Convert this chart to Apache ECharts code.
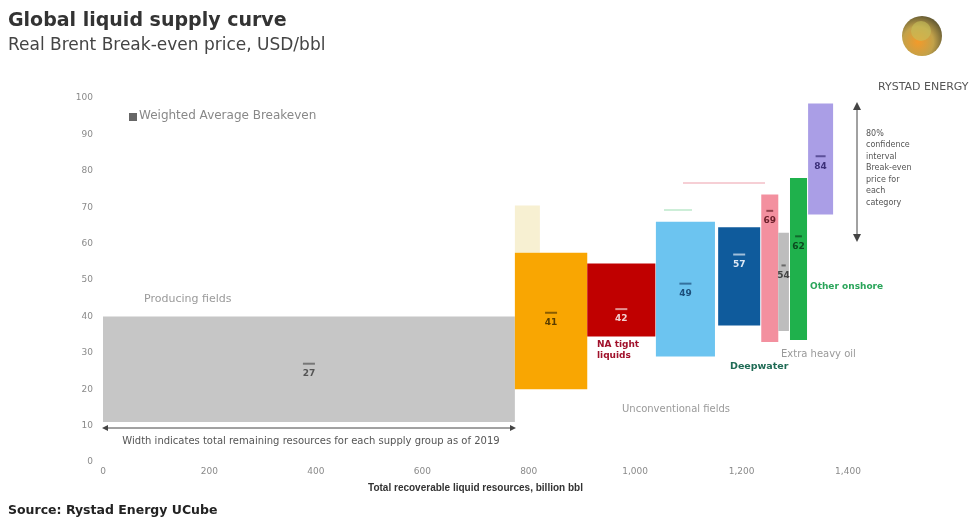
<!DOCTYPE html>
<html><head><meta charset="utf-8">
<script src="https://cdn.jsdelivr.net/npm/echarts@6/dist/echarts.min.js"></script>
<style>html,body{margin:0;padding:0;background:#fff}#c{width:970px;height:524px}</style>
</head><body><div id="c"></div>
<script>
// ---- data ----
var groups   = ['Producing fields','Middle East onshore top','Onshore Middle East','NA tight liquids','Offshore shelf','Deepwater','Russia onshore','Other','Other onshore','Oil sands'];
var xStart   = [0,   774, 774, 910, 1039, 1156, 1237, 1269, 1291, 1325];
var xEnd     = [774, 821, 910, 1038,1150, 1235, 1269, 1289, 1323, 1372];
var lowBE    = [11,  57.5,20,  34.5,29,   37.5, 33,   36,   33.5, 68];
var highBE   = [40,  70.5,57.5,54.5,66,   64.5, 73.5, 63,   78,   98.5];
var avgBE    = [27,  null,41,  42,  49,   57,   69,   54,   62,   84];
var colors   = ['#c6c6c6','#f7f0d2','#f9a602','#c00000','#6cc4f0','#0f5b9c','#f3909f','#bdbdbd','#1fb14c','#aa9ee6'];
var labelCol = ['#555','#555','#5a3d00','#f2d0d0','#1d4f7a','#dfe9f5','#6b1f2a','#444','#0b4a1f','#3b2f78'];
var xTicks   = [0,200,400,600,800,1000,1200,1400];
var yTicks   = [0,10,20,30,40,50,60,70,80,90,100];

var chart = echarts.init(document.getElementById('c'));
var data = groups.map(function(g,i){return [xStart[i], xEnd[i], lowBE[i], highBE[i], avgBE[i], i];});

function fmt(v){return v>=1000? (Math.floor(v/1000)+','+String(v%1000).padStart(3,'0')) : String(v);}

var option = {
  animation:false,
  textStyle:{fontFamily:'DejaVu Sans'},
  grid:{left:103,right:122,top:98,bottom:62,containLabel:false},
  xAxis:{type:'value',min:0,max:1400,interval:200,
    axisLine:{show:false},axisTick:{show:false},splitLine:{show:false},
    axisLabel:{color:'#8a8a8a',fontSize:9,margin:5,formatter:function(v){return fmt(v);}},
    name:'Total recoverable liquid resources, billion bbl',nameLocation:'middle',nameGap:21,
    nameTextStyle:{fontSize:10,fontWeight:'bold',color:'#333',fontFamily:'Liberation Sans'}},
  yAxis:{type:'value',min:0,max:100,interval:10,
    axisLine:{show:false},axisTick:{show:false},splitLine:{show:false},
    axisLabel:{color:'#8a8a8a',fontSize:9,margin:10}},
  title:[
    {text:'Global liquid supply curve',left:8,top:12,padding:0,textStyle:{fontSize:19,fontWeight:'bold',color:'#333',fontFamily:'DejaVu Sans'}},
    {text:'Real Brent Break-even price, USD/bbl',left:8,top:37,padding:0,textStyle:{fontSize:17,fontWeight:'normal',color:'#444',fontFamily:'DejaVu Sans'}},
    {text:'Source: Rystad Energy UCube',left:8,top:504,padding:0,textStyle:{fontSize:12.5,fontWeight:'bold',color:'#222',fontFamily:'DejaVu Sans'}}
  ],
  series:[{
    type:'custom',
    data:data,
    encode:{x:[0,1],y:[2,3]},
    renderItem:function(params,api){
      var x0=api.value(0),x1=api.value(1),lo=api.value(2),hi=api.value(3),av=api.value(4),i=api.value(5);
      var p0=api.coord([x0,hi]),p1=api.coord([x1,lo]);
      var children=[{type:'rect',shape:{x:p0[0],y:p0[1],width:p1[0]-p0[0],height:p1[1]-p0[1]},
        style:{fill:colors[i]}}];
      if(av!=null && !isNaN(av)){
        var pa=api.coord([(x0+x1)/2,av]);
        var w=Math.min(12,(p1[0]-p0[0])*0.4);
        children.push({type:'rect',shape:{x:pa[0]-w/2,y:pa[1]-1,width:w,height:2},style:{fill:labelCol[i],opacity:0.7}});
        children.push({type:'text',x:pa[0],y:pa[1]+10,style:{text:String(av),fill:labelCol[i],fontSize:9,fontWeight:'bold',align:'center',verticalAlign:'middle',fontFamily:'DejaVu Sans'}});
      }
      return {type:'group',children:children};
    }
  }],
  graphic:[
    // legend marker
    {type:'rect',left:129,top:113,shape:{width:8,height:8},style:{fill:'#666'}},
    {type:'text',left:139,top:110,style:{text:'Weighted Average Breakeven',fill:'#888',fontSize:12,fontFamily:'DejaVu Sans'}},
    // gray annotation texts
    {type:'text',left:144,top:294,style:{text:'Producing fields',fill:'#9a9a9a',fontSize:11,fontFamily:'DejaVu Sans'}},
    {type:'text',left:622,top:404,style:{text:'Unconventional fields',fill:'#9a9a9a',fontSize:10,fontFamily:'DejaVu Sans'}},
    {type:'text',left:781,top:349,style:{text:'Extra heavy oil',fill:'#9a9a9a',fontSize:10,fontFamily:'DejaVu Sans'}},
    {type:'text',left:597,top:339,style:{text:'NA tight\nliquids',fill:'#a0102a',fontSize:9,fontWeight:'bold',lineHeight:11,fontFamily:'DejaVu Sans'}},
    {type:'text',left:730,top:362,style:{text:'Deepwater',fill:'#1f6b55',fontSize:9.5,fontWeight:'bold',fontFamily:'DejaVu Sans'}},
    {type:'text',left:810,top:282,style:{text:'Other onshore',fill:'#2aa55a',fontSize:9,fontWeight:'bold',fontFamily:'DejaVu Sans'}},
    // faint decorative lines
    {type:'line',shape:{x1:683,y1:183,x2:765,y2:183},style:{stroke:'#f6cfd5',lineWidth:2}},
    {type:'line',shape:{x1:664,y1:210,x2:692,y2:210},style:{stroke:'#cdeed8',lineWidth:2}},
    // right vertical arrow
    {type:'line',shape:{x1:857,y1:106,x2:857,y2:238},style:{stroke:'#444',lineWidth:1}},
    {type:'polygon',shape:{points:[[853,110],[861,110],[857,102]]},style:{fill:'#444'}},
    {type:'polygon',shape:{points:[[853,234],[861,234],[857,242]]},style:{fill:'#444'}},
    {type:'text',left:866,top:128,style:{text:'80%\nconfidence\ninterval\nBreak-even\nprice for\neach\ncategory',fill:'#555',fontSize:8,lineHeight:11.5,fontFamily:'DejaVu Sans'}},
    // bottom horizontal arrow
    {type:'line',shape:{x1:107,y1:428,x2:511,y2:428},style:{stroke:'#444',lineWidth:1}},
    {type:'polygon',shape:{points:[[108,425],[108,431],[102,428]]},style:{fill:'#444'}},
    {type:'polygon',shape:{points:[[510,425],[510,431],[516,428]]},style:{fill:'#444'}},
    {type:'text',x:311,y:441,style:{text:'Width indicates total remaining resources for each supply group as of 2019',fill:'#555',fontSize:10,align:'center',verticalAlign:'middle',fontFamily:'DejaVu Sans'}},
    // logo
    {type:'circle',shape:{cx:922,cy:36,r:20},style:{fill:{type:'radial',x:0.4,y:0.65,r:0.7,colorStops:[{offset:0,color:'#f39a2a'},{offset:0.55,color:'#c2a24a'},{offset:1,color:'#5b5330'}]}}},
    {type:'circle',shape:{cx:921,cy:31,r:10},style:{fill:'#c6c05a',opacity:0.6}},
    {type:'text',left:878,top:82,style:{text:'RYSTAD ENERGY',fill:'#555',fontSize:11,fontFamily:'DejaVu Sans'}}
  ]
};
chart.setOption(option);
</script></body></html>
